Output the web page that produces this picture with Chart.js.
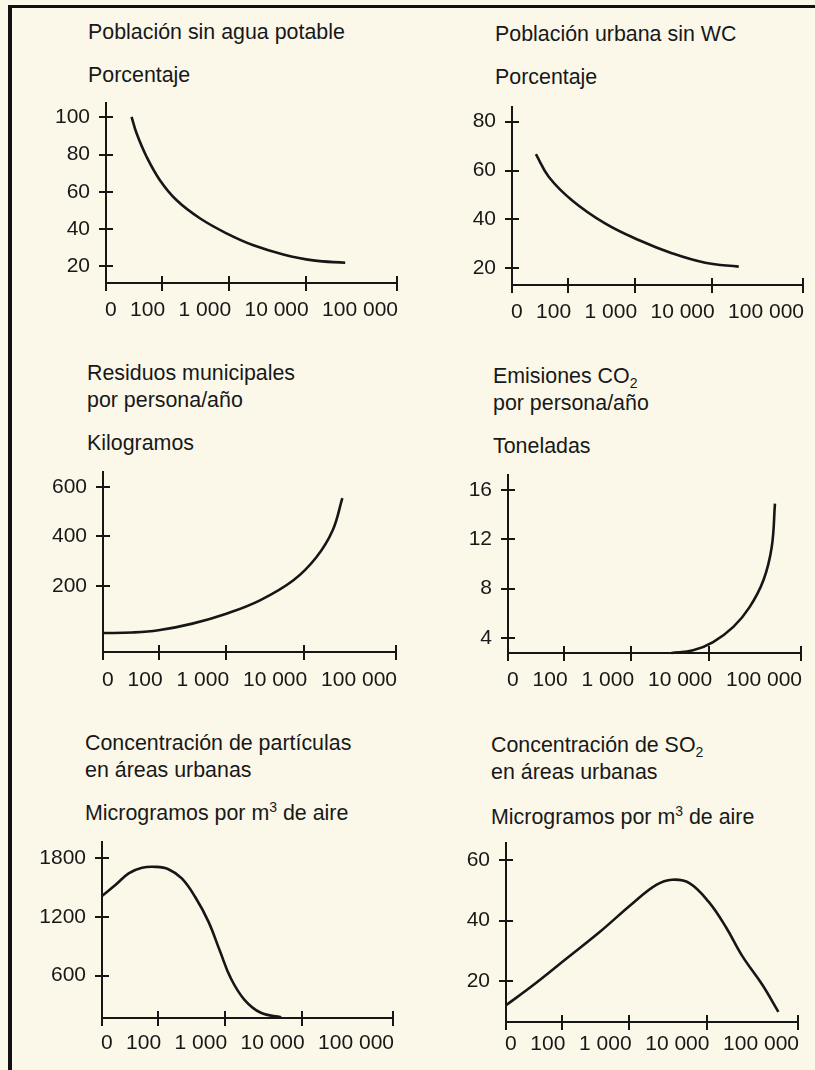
<!DOCTYPE html>
<html>
<head>
<meta charset="utf-8">
<script src="https://cdn.jsdelivr.net/npm/chart.js@4.4.1/dist/chart.umd.min.js"></script>
<style>
  html, body { margin: 0; padding: 0; }
  body {
    width: 815px; height: 1070px; position: relative; overflow: hidden;
    background: #fbf8ea;
    font-family: "Liberation Sans", Arial, sans-serif; color: #181818;
  }
  .marco-top { position: absolute; left: 8px; top: 5px; width: 807px; height: 3px; background: #111; }
  .marco-izq { position: absolute; left: 8px; top: 5px; width: 4px; height: 1065px; background: #111; }
  .ttl { position: absolute; font-size: 21.4px; line-height: 27px; white-space: nowrap; }
  .ttl sub, .ttl sup { font-size: 14px; line-height: 0; }
  canvas { position: absolute; }
</style>
</head>
<body>
<div class="marco-top"></div>
<div class="marco-izq"></div>

<div class="ttl" style="left:88px;top:19px">Población sin agua potable</div>
<div class="ttl" style="left:88px;top:62px">Porcentaje</div>
<div class="ttl" style="left:495px;top:21px">Población urbana sin WC</div>
<div class="ttl" style="left:495px;top:64px">Porcentaje</div>

<div class="ttl" style="left:87px;top:360px">Residuos municipales<br>por persona/año</div>
<div class="ttl" style="left:87px;top:430px">Kilogramos</div>
<div class="ttl" style="left:493px;top:363px">Emisiones CO<sub>2</sub><br>por persona/año</div>
<div class="ttl" style="left:493px;top:433px">Toneladas</div>

<div class="ttl" style="left:85px;top:730px">Concentración de partículas<br>en áreas urbanas</div>
<div class="ttl" style="left:85px;top:800px">Microgramos por m<sup>3</sup> de aire</div>
<div class="ttl" style="left:491px;top:732px">Concentración de SO<sub>2</sub><br>en áreas urbanas</div>
<div class="ttl" style="left:491px;top:804px">Microgramos por m<sup>3</sup> de aire</div>

<canvas id="agua"></canvas>
<canvas id="wc"></canvas>
<canvas id="residuos"></canvas>
<canvas id="co2"></canvas>
<canvas id="particulas"></canvas>
<canvas id="so2"></canvas>

<script>
// ingreso per cápita (dólares) en el eje horizontal
const xTicks = [0, 100, 1000, 10000, 100000];
const xTickLabels = ["0", "100", "1 000", "10 000", "100 000"];

// Población sin agua potable (%)
const aguaIngreso = [46, 55, 73, 97, 168, 378, 950, 2100, 5100, 12000, 27000];
const aguaPct = [100.3, 91.4, 78.8, 66.2, 55.4, 45.6, 37.5, 31.2, 26.3, 23.1, 21.8];
const aguaTicks = [20, 40, 60, 80, 100];

// Población urbana sin WC (%)
const wcIngreso = [43, 66, 116, 363, 1130, 3100, 8200, 19700];
const wcPct = [66.7, 57.5, 47.9, 38.4, 31.6, 26.1, 22.3, 20.7];
const wcTicks = [20, 40, 60, 80];

// Residuos municipales por persona/año (kg)
const residuosIngreso = [0, 52, 99, 313, 1000, 2700, 7250, 13600, 20400, 26000];
const residuosKg = [10, 12, 21, 48, 88, 142, 223, 317, 425, 555];
const residuosTicks = [200, 400, 600];

// Emisiones CO2 por persona/año (t)
const co2Ingreso = [3270, 6200, 11000, 18300, 27500, 39000, 48000, 52000];
const co2Ton = [2.78, 3.0, 3.67, 4.9, 6.5, 8.7, 11.4, 14.9];
const co2Ticks = [4, 8, 12, 16];

// Concentración de partículas (µg/m3)
const partIngreso = [0, 24, 48, 72, 96, 145, 230, 363, 575, 860, 1200, 1800, 2950, 5400];
const partConc = [1412, 1523, 1642, 1699, 1709, 1685, 1591, 1404, 1151, 846, 577, 357, 222, 177];
const partTicks = [600, 1200, 1800];

// Concentración de SO2 (µg/m3)
const so2Ingreso = [0, 49, 119, 370, 1120, 2250, 3600, 6000, 10500, 16300, 24600, 40700, 61000];
const so2Conc = [11.9, 18.6, 27.5, 36.3, 45.8, 51.9, 53.6, 52.5, 46.3, 37.8, 28.2, 18.7, 9.7];
const so2Ticks = [20, 40, 60];

// where each x tick sits along the axis (fraction of axis length)
const X_STOPS = [0, 0.191, 0.421, 0.687, 1];
const INK = "#161616";
const TXT = "#181818";
const FONT = '"Liberation Sans", Arial, sans-serif';

function ingresoAPaso(v) {
  if (v <= 100) return v / 100;
  return 1 + Math.log10(v / 100);
}

class IngresoScale extends Chart.LinearScale {
  getPixelForValue(value) {
    if (value === null || value === undefined) return NaN;
    const t = ingresoAPaso(value);
    const i = Math.max(0, Math.min(3, Math.floor(t)));
    const dec = X_STOPS[i] + (t - i) * (X_STOPS[i + 1] - X_STOPS[i]);
    return this.getPixelForDecimal(dec);
  }
}
IngresoScale.id = "ingreso";
IngresoScale.defaults = Chart.LinearScale.defaults;
Chart.register(IngresoScale);

// tick marks crossing the axes + x labels spread along the axis
const ejesPlugin = {
  id: "ejes",
  afterDraw(chart, args, opts) {
    const { ctx, chartArea: a, scales: { x, y } } = chart;
    ctx.save();
    ctx.strokeStyle = INK;
    ctx.lineWidth = 2;
    ctx.beginPath();
    y.ticks.forEach((t, i) => {
      const py = Math.round(y.getPixelForTick(i));
      ctx.moveTo(a.left - 7, py);
      ctx.lineTo(a.left + 7, py);
    });
    x.ticks.forEach((t, i) => {
      const px = Math.round(x.getPixelForTick(i));
      ctx.moveTo(px, a.bottom - 7);
      ctx.lineTo(px, a.bottom + 8);
    });
    ctx.stroke();

    ctx.font = "21px " + FONT;
    ctx.fillStyle = TXT;
    ctx.textBaseline = "middle";
    const widths = xTickLabels.map(s => ctx.measureText(s).width);
    const total = widths.reduce((s, w) => s + w, 0);
    const x0 = a.left - 1, x1 = a.right + 1;
    const gap = (x1 - x0 - total) / (xTickLabels.length - 1);
    let cx = x0;
    xTickLabels.forEach((s, i) => {
      ctx.fillText(s, cx, a.bottom + opts.gap);
      cx += widths[i] + gap;
    });
    ctx.restore();
  }
};

const L = 80, T = 10, R = 20, B = 45;

function grafica(id, xs, ys, yTicks, yMin, yMax, caja, gap) {
  const canvas = document.getElementById(id);
  const w = caja.x1 - caja.x0 + L + R;
  const h = caja.bottom - caja.top + T + B;
  canvas.width = w;
  canvas.height = h;
  canvas.style.left = (caja.x0 - L) + "px";
  canvas.style.top = (caja.top - T) + "px";

  return new Chart(canvas, {
    type: "line",
    data: {
      datasets: [{
        data: xs.map((v, i) => ({ x: v, y: ys[i] })),
        borderColor: INK,
        borderWidth: 2.6,
        pointRadius: 0,
        fill: false,
        tension: 0.4,
        clip: false
      }]
    },
    options: {
      responsive: false,
      animation: false,
      layout: { padding: { left: 0, top: T, right: R, bottom: 0 } },
      plugins: {
        legend: { display: false },
        tooltip: { enabled: false },
        ejes: { gap: gap }
      },
      scales: {
        x: {
          type: "ingreso",
          min: 0,
          max: 100000,
          grid: { display: false, drawTicks: false },
          border: { display: true, color: INK, width: 2 },
          ticks: { display: false },
          afterBuildTicks: s => { s.ticks = xTicks.map(v => ({ value: v })); },
          afterFit: s => { s.height = B; s.paddingLeft = 0; s.paddingRight = 0; }
        },
        y: {
          min: yMin,
          max: yMax,
          grid: { display: false, drawTicks: false },
          border: { display: true, color: INK, width: 2 },
          ticks: {
            color: TXT,
            font: { family: FONT, size: 21 },
            padding: 16,
            callback: v => String(v)
          },
          afterBuildTicks: s => { s.ticks = yTicks.map(v => ({ value: v })); },
          afterFit: s => { s.width = L; s.paddingTop = 0; s.paddingBottom = 0; }
        }
      }
    },
    plugins: [ejesPlugin]
  });
}

grafica("agua", aguaIngreso, aguaPct, aguaTicks, 10.94, 107.7,
  { x0: 106, x1: 397, top: 103, bottom: 283 }, 27);
grafica("wc", wcIngreso, wcPct, wcTicks, 13.2, 86,
  { x0: 512, x1: 803, top: 107, bottom: 285 }, 27);
grafica("residuos", residuosIngreso, residuosKg, residuosTicks, -66.7, 660.6,
  { x0: 103, x1: 396, top: 472, bottom: 652 }, 28);
grafica("co2", co2Ingreso, co2Ton, co2Ticks, 2.78, 17.22,
  { x0: 508, x1: 801, top: 475, bottom: 653 }, 27);
grafica("particulas", partIngreso, partConc, partTicks, 169, 1962,
  { x0: 102, x1: 393, top: 842, bottom: 1018 }, 25);
grafica("so2", so2Ingreso, so2Conc, so2Ticks, 6.33, 65.8,
  { x0: 506, x1: 798, top: 843, bottom: 1022 }, 22);
</script>
</body>
</html>
